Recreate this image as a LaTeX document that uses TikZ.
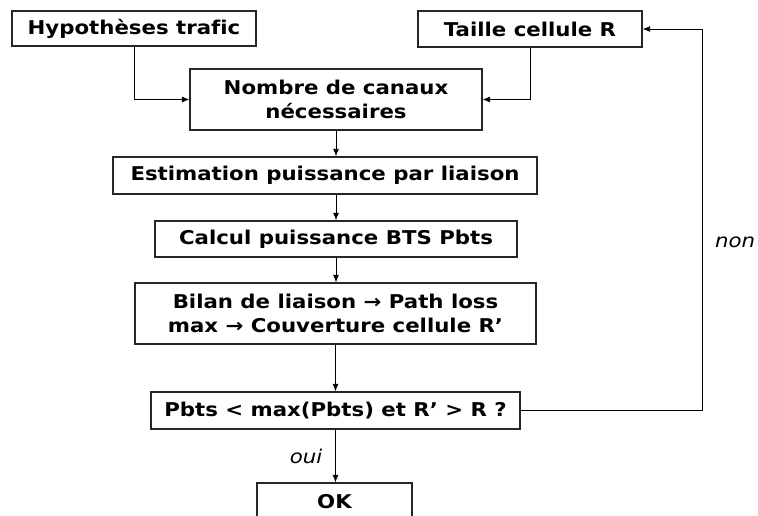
\documentclass[tikz,border=0pt]{standalone}
\usepackage{fontspec}
\setmainfont[Ligatures=NoCommon,FakeStretch=1.12]{DejaVu Sans}
\usetikzlibrary{arrows.meta}
\begin{document}
\begin{tikzpicture}[x=1pt,y=-1pt,
  box/.style={draw=black!85,line width=1.3pt,rectangle,inner sep=0pt,align=center,
    font=\fontsize{19}{23.5}\selectfont\bfseries},
  conn/.style={line width=0.9pt,-{Latex[length=7.5pt,width=6pt]}},
  lab/.style={font=\fontsize{19}{23.5}\selectfont\itshape}]
\useasboundingbox (0,0) rectangle (758,516);
\clip (0,0) rectangle (758,516);
\node[box,minimum width=244pt,minimum height=35pt] (hyp) at (134,28.5) {Hypothèses trafic};
\node[box,minimum width=224pt,minimum height=36pt] (taille) at (530,29) {Taille cellule R};
\node[box,minimum width=292pt,minimum height=61pt] (nombre) at (336,99.5) {Nombre de canaux\\nécessaires};
\node[box,minimum width=424pt,minimum height=37pt] (est) at (325,175.5) {Estimation puissance par liaison};
\node[box,minimum width=362pt,minimum height=36pt] (calc) at (336,239) {Calcul puissance BTS Pbts};
\node[box,minimum width=401pt,minimum height=61pt] (bilan) at (335.5,313.5) {Bilan de liaison → Path loss\\max → Couverture cellule R’};
\node[box,minimum width=369pt,minimum height=37pt] (dec) at (335.5,410.5) {Pbts < max(Pbts) et R’ > R ?};
\node[box,minimum width=155pt,minimum height=40pt] (ok) at (334.5,503) {};
\node[font=\fontsize{19}{23.5}\selectfont\bfseries] (oktext) at (334.5,502) {OK};
\coordinate (fb) at (702,0);
\draw[conn] (hyp.south) -- (hyp.south |- nombre.west) -- (nombre.west);
\draw[conn] (taille.south) -- (taille.south |- nombre.east) -- (nombre.east);
\draw[conn] (nombre.south) -- (nombre.south |- est.north);
\draw[conn] (calc.north |- est.south) -- (calc.north);
\draw[conn] (calc.south) -- (calc.south |- bilan.north);
\draw[conn] (bilan.south) -- (dec.north);
\draw[conn] (dec.south) -- (dec.south |- ok.north);
\draw[conn] (dec.east) -- (dec.east -| fb) -- (fb |- taille.east) -- (taille.east);
\node[lab] (oui) at (306,456) {oui};
\node[lab] (non) at (735,242) {non};
\end{tikzpicture}
\end{document}
